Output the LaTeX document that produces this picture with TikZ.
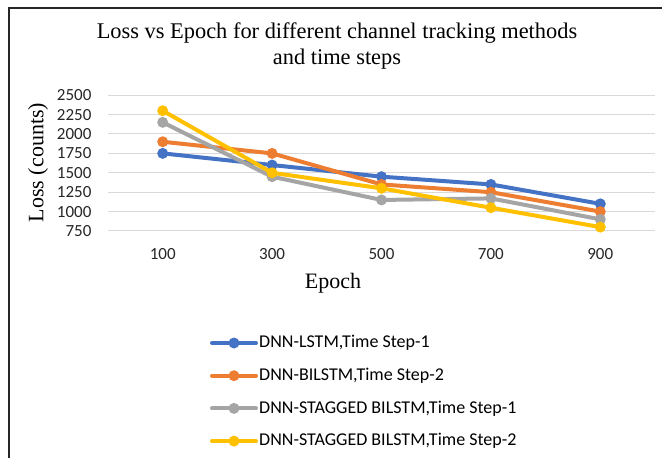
\documentclass[tikz,border=0pt]{standalone}
\usepackage{fontspec}
\usetikzlibrary{calc}
\setmainfont{Liberation Serif}
\newfontfamily\calib{Carlito}
\definecolor{serA}{HTML}{4472C4}
\definecolor{serB}{HTML}{ED7D31}
\definecolor{serC}{HTML}{A5A5A5}
\definecolor{serD}{HTML}{FFC000}
\definecolor{gridc}{HTML}{D9D9D9}
\tikzset{
  series/.style={line width=4pt, line join=round, line cap=round},
  dot/.style={circle, inner sep=0pt, minimum size=11pt},
  ticklab/.style={font=\calib\fontsize{17}{17}\selectfont, text=black!85},
  legtext/.style={font=\calib\fontsize{18}{18}\selectfont, anchor=west, inner sep=0pt, text=black},
  axtitle/.style={font=\fontsize{22}{22}\selectfont},
}
\begin{document}
\begin{tikzpicture}[x=1pt,y=-1pt]
\useasboundingbox (0,0) rectangle (662,458);
% outer frame (top and left edges)
\draw[line width=2pt, black!85] (662,7.5) -- (9,7.5) -- (9,458);

% title
\node[font=\fontsize{22.4}{26.5}\selectfont, align=center] (title) at (337,46)
  {Loss vs Epoch for different channel tracking methods\\and time steps};

% plot area: category index on x, loss value on y
\begin{scope}[shift={(53.3,289.2)}, x=109.4pt, y=0.0776pt]
  \foreach \v in {750,1000,...,2500} {
    \draw[gridc, line width=1pt] (0.5,\v) -- (5.5,\v);
    \node[ticklab, anchor=east, inner sep=0pt] (yt\v) at (0.35,\v) {\v};
  }
  \foreach \c/\lab in {1/100,2/300,3/500,4/700,5/900}
    \node[ticklab] (xt\lab) at (\c,450) {\lab};

  % series: DNN-LSTM TS-1, DNN-BILSTM TS-2, STAGGED TS-1, STAGGED TS-2
  \foreach \s/\col/\va/\vb/\vc/\vd/\ve in {
      A/serA/1750/1600/1450/1350/1100,
      B/serB/1900/1750/1350/1250/1000,
      C/serC/2150/1450/1150/1170/900,
      D/serD/2300/1500/1300/1050/800} {
    \coordinate (\s1) at (1,\va);
    \coordinate (\s2) at (2,\vb);
    \coordinate (\s3) at (3,\vc);
    \coordinate (\s4) at (4,\vd);
    \coordinate (\s5) at (5,\ve);
    \draw[series, \col] (\s1) -- (\s2) -- (\s3) -- (\s4) -- (\s5);
    \foreach \k in {1,...,5}
      \node[dot, fill=\col] (m\s\k) at (\s\k) {};
  }
\end{scope}

% axis titles
\node[axtitle, rotate=90] (ytitle) at (38,162.5) {Loss (counts)};
\node[axtitle] (xtitle) at (333,283) {Epoch};

% legend
\foreach \i/\col/\txt in {
    0/serA/{DNN-LSTM,Time Step-1},
    1/serB/{DNN-BILSTM,Time Step-2},
    2/serC/{DNN-STAGGED BILSTM,Time Step-1},
    3/serD/{DNN-STAGGED BILSTM,Time Step-2}} {
  \coordinate (la\i) at (212,343+32.7*\i);
  \coordinate (lb\i) at (256,343+32.7*\i);
  \draw[series, \col] (la\i) -- (lb\i);
  \node[dot, fill=\col] (lm\i) at ($(la\i)!0.5!(lb\i)$) {};
  \node[legtext] (lt\i) at (259,343+32.7*\i) {\txt};
}
\end{tikzpicture}
\end{document}
